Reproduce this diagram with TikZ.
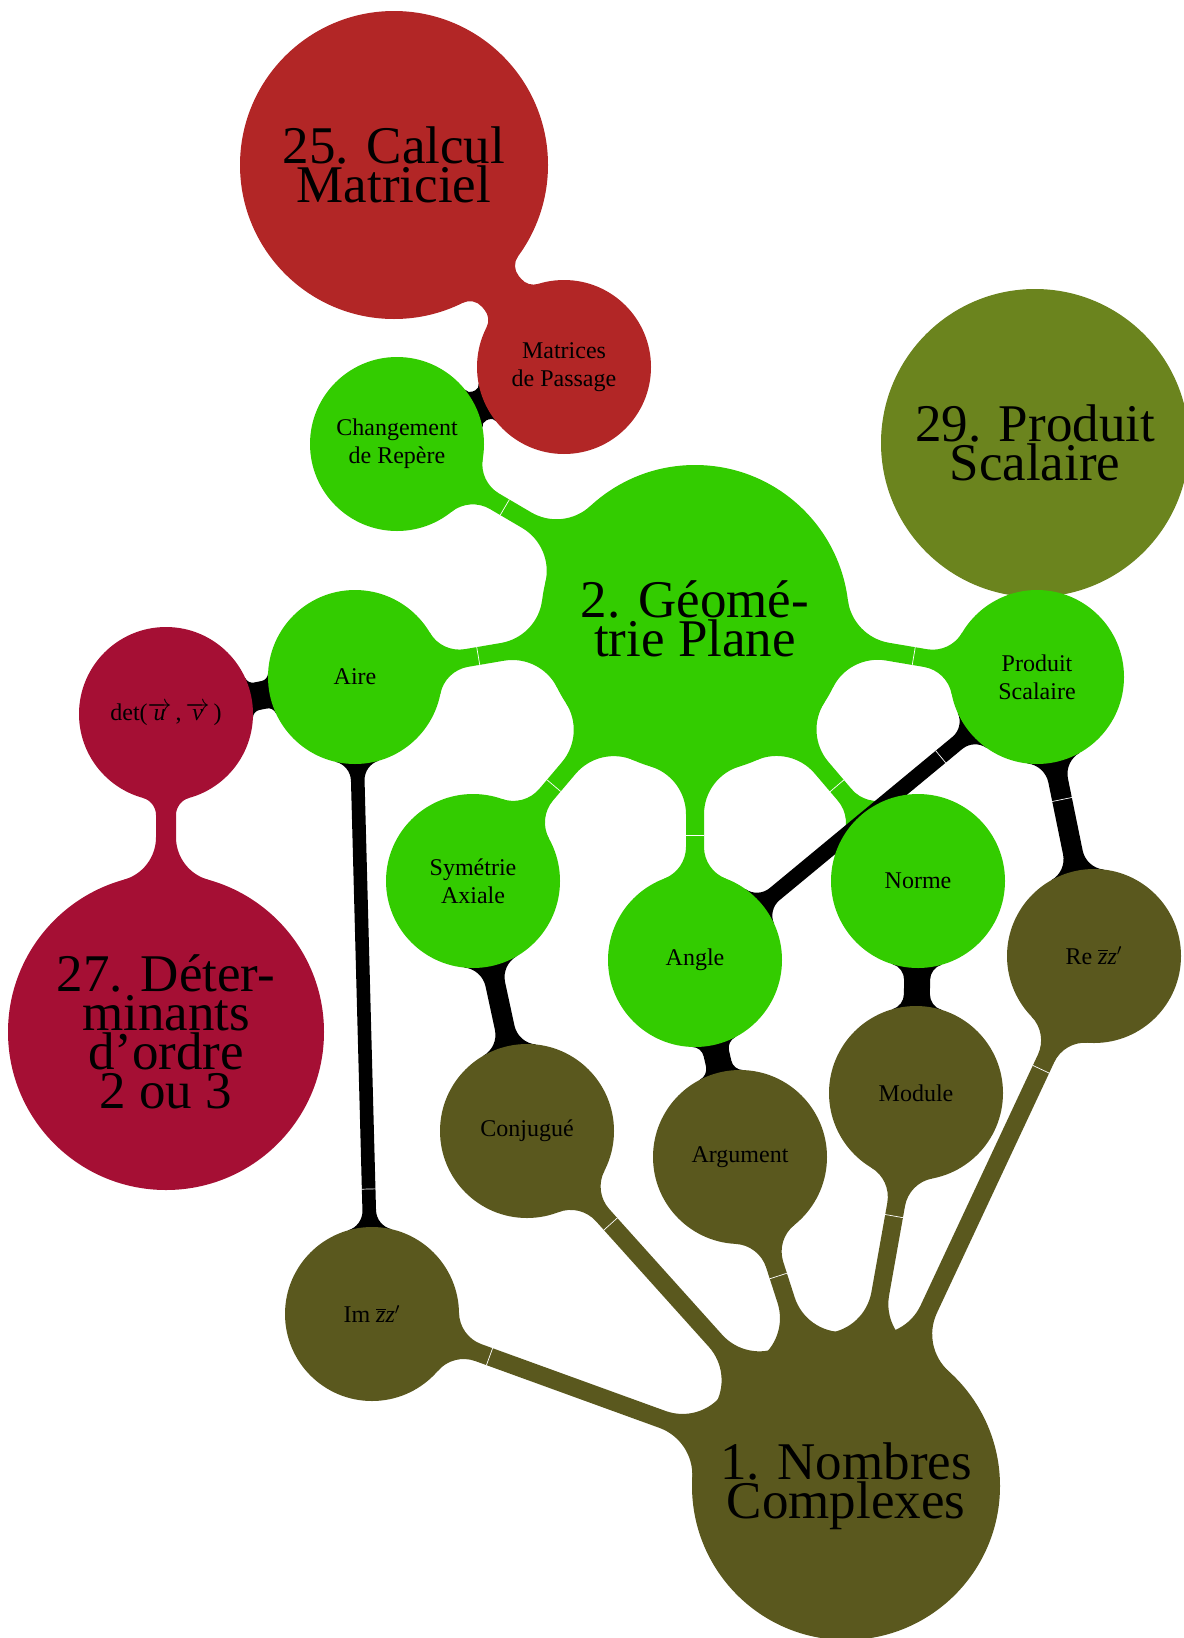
\documentclass[tikz,border=0pt]{standalone}
\usepackage{fontspec}
\setmainfont{Liberation Serif}
\usetikzlibrary{backgrounds}
\definecolor{cred}{RGB}{178,38,38}
\definecolor{cgrn}{RGB}{51,204,0}
\definecolor{colv}{RGB}{107,132,30}
\definecolor{cdol}{RGB}{90,88,30}
\definecolor{cmar}{RGB}{165,15,52}
\makeatletter
% #1 from node, #2 to node, #3 half width, #4 fillet at #1, #5 fillet at #2, #6 colour, #7 seam distance from #2 (0 = none)
\newcommand\cbar[7]{%
  \pgfpointanchor{#1}{center}\edef\cbax{\strip@pt\pgf@x}\edef\cbay{\strip@pt\pgf@y}%
  \pgfpointanchor{#2}{center}\edef\cbbx{\strip@pt\pgf@x}\edef\cbby{\strip@pt\pgf@y}%
  \pgfpointanchor{#1}{east}\edef\cbex{\strip@pt\pgf@x}%
  \pgfpointanchor{#2}{east}\edef\cbfx{\strip@pt\pgf@x}%
  \pgfmathsetmacro\cbdx{\cbbx-\cbax}%
  \pgfmathsetmacro\cbdy{\cbby-\cbay}%
  \pgfmathsetmacro\cbang{atan2(\cbdy,\cbdx)}%
  \pgfmathsetmacro\cbd{veclen(\cbdx,\cbdy)}%
  \pgfmathsetmacro\cbra{\cbex-\cbax}%
  \pgfmathsetmacro\cbrb{\cbfx-\cbbx}%
  \pgfmathsetmacro\cbta{sqrt((\cbra+#4)^2-(#3+#4)^2)}%
  \pgfmathsetmacro\cbtb{sqrt((\cbrb+#5)^2-(#3+#5)^2)}%
  \pgfmathsetmacro\cbaa{atan2(-(#3+#4),-\cbta)}%
  \pgfmathsetmacro\cbaan{-\cbaa}%
  \pgfmathsetmacro\cbab{atan2(-(#3+#5),\cbtb)}%
  \pgfmathsetmacro\cbabn{-\cbab}%
  \pgfmathsetmacro\cbpax{\cbta*\cbra/(\cbra+#4)}%
  \pgfmathsetmacro\cbpay{(#3+#4)*\cbra/(\cbra+#4)}%
  \pgfmathsetmacro\cbpbx{\cbd-\cbtb*\cbrb/(\cbrb+#5)}%
  \pgfmathsetmacro\cbpby{(#3+#5)*\cbrb/(\cbrb+#5)}%
  \pgfmathsetmacro\cbqa{\cbd-\cbtb}%
  \fill[#6,shift={(#1.center)},rotate=\cbang]
    (\cbpax,\cbpay) arc[start angle=\cbaa, end angle=-90, radius=#4]
    -- (\cbqa,#3) arc[start angle=-90, end angle=\cbab, radius=#5]
    -- (\cbd,0) -- (\cbpbx,-\cbpby) arc[start angle=\cbabn, end angle=90, radius=#5]
    -- (\cbta,-#3) arc[start angle=90, end angle=\cbaan, radius=#4]
    -- (0,0) -- cycle;
  \ifdim #7pt>0pt
    \pgfmathsetmacro\cbs{\cbd-#7}%
    \draw[white,line width=0.35pt,shift={(#1.center)},rotate=\cbang]
      (\cbs,-#3) -- (\cbs,#3);
  \fi
}
\makeatother
\tikzset{
  cpt/.style={circle,inner sep=0pt,outer sep=0pt,align=center,text=black},
  bigc/.style={cpt,minimum size=154pt,font=\fontsize{26.5}{19.5}\selectfont},
  smallc/.style={cpt,minimum size=87pt,font=\fontsize{12}{14}\selectfont},
}
\begin{document}
\begin{tikzpicture}[x=1pt,y=1pt]
\useasboundingbox (0,0) rectangle (591.5,-819);
% main concepts
\node[bigc,fill=cred] (calc) at (197,-82.5) {25. Calcul\\Matriciel};
\node[bigc,fill=cgrn] (geo) at (347.5,-309.5) {2. Géomé-\\trie Plane};
\node[bigc,fill=colv] (ps29) at (517.5,-221.5) {29. Produit\\Scalaire};
\node[bigc,fill=cmar,minimum size=158pt] (det27) at (83,-516) {27. Déter-\\minants\\d’ordre\\2 ou 3};
\node[bigc,fill=cdol] (nc) at (423,-743) {1. Nombres\\Complexes};
% sub concepts
\node[smallc,fill=cred] (mp) at (282,-183.5) {Matrices\\de Passage};
\node[smallc,fill=cgrn] (chg) at (198.5,-222) {Changement\\de Repère};
\node[smallc,fill=cgrn] (ps) at (518.5,-338.5) {Produit\\Scalaire};
\node[smallc,fill=cgrn] (aire) at (177.5,-338.5) {Aire};
\node[smallc,fill=cmar] (det) at (83,-357) {det($\overrightarrow{\mbox{\itshape u}}$\,,\,$\overrightarrow{\mbox{\itshape v}}$\,)};
\node[smallc,fill=cgrn] (sym) at (236.5,-440.5) {Symétrie\\Axiale};
\node[smallc,fill=cgrn] (angle) at (347.5,-480) {Angle};
\node[smallc,fill=cgrn] (norme) at (459,-440.5) {Norme};
\node[smallc,fill=cdol] (re) at (547,-478) {Re $\overline{\mbox{\itshape z}}\mbox{\itshape z}'$};
\node[smallc,fill=cdol] (conj) at (263.5,-565.5) {Conjugué};
\node[smallc,fill=cdol] (arg) at (370,-578.5) {Argument};
\node[smallc,fill=cdol] (module) at (458,-546.5) {Module};
\node[smallc,fill=cdol] (im) at (186,-657) {Im $\overline{\mbox{\itshape z}}\mbox{\itshape z}'$};
\begin{pgfonlayer}{background}
% same-colour connections
\cbar{calc}{mp}{12}{8}{8}{cred}{0}
\cbar{geo}{chg}{4.5}{25}{17}{cgrn}{62.5}
\cbar{geo}{aire}{4.5}{25}{17}{cgrn}{62.5}
\cbar{geo}{ps}{4.5}{25}{17}{cgrn}{62.5}
\cbar{geo}{sym}{4.5}{25}{17}{cgrn}{62.5}
\cbar{geo}{angle}{4.5}{25}{17}{cgrn}{62.5}
\cbar{geo}{norme}{4.5}{25}{17}{cgrn}{62.5}
\cbar{det27}{det}{5}{22}{9}{cmar}{0}
\cbar{nc}{conj}{4.5}{25}{17}{cdol}{62.5}
\cbar{nc}{arg}{4.5}{25}{17}{cdol}{62.5}
\cbar{nc}{module}{4.5}{25}{17}{cdol}{62.5}
\cbar{nc}{re}{4.5}{25}{17}{cdol}{62.5}
\cbar{nc}{im}{4.5}{25}{17}{cdol}{62.5}
% cross links
\cbar{mp}{chg}{8}{3}{3}{black}{0}
\cbar{det}{aire}{7}{4}{4}{black}{0}
\cbar{aire}{im}{3.4}{10}{10}{black}{62.5}
\cbar{angle}{ps}{3.9}{10}{10}{black}{62.5}
\cbar{sym}{conj}{5}{12}{12}{black}{0}
\cbar{angle}{arg}{6.5}{6}{6}{black}{0}
\cbar{norme}{module}{6.5}{8}{8}{black}{0}
\cbar{re}{ps}{5}{12}{12}{black}{62.5}
\end{pgfonlayer}
\end{tikzpicture}
\end{document}
